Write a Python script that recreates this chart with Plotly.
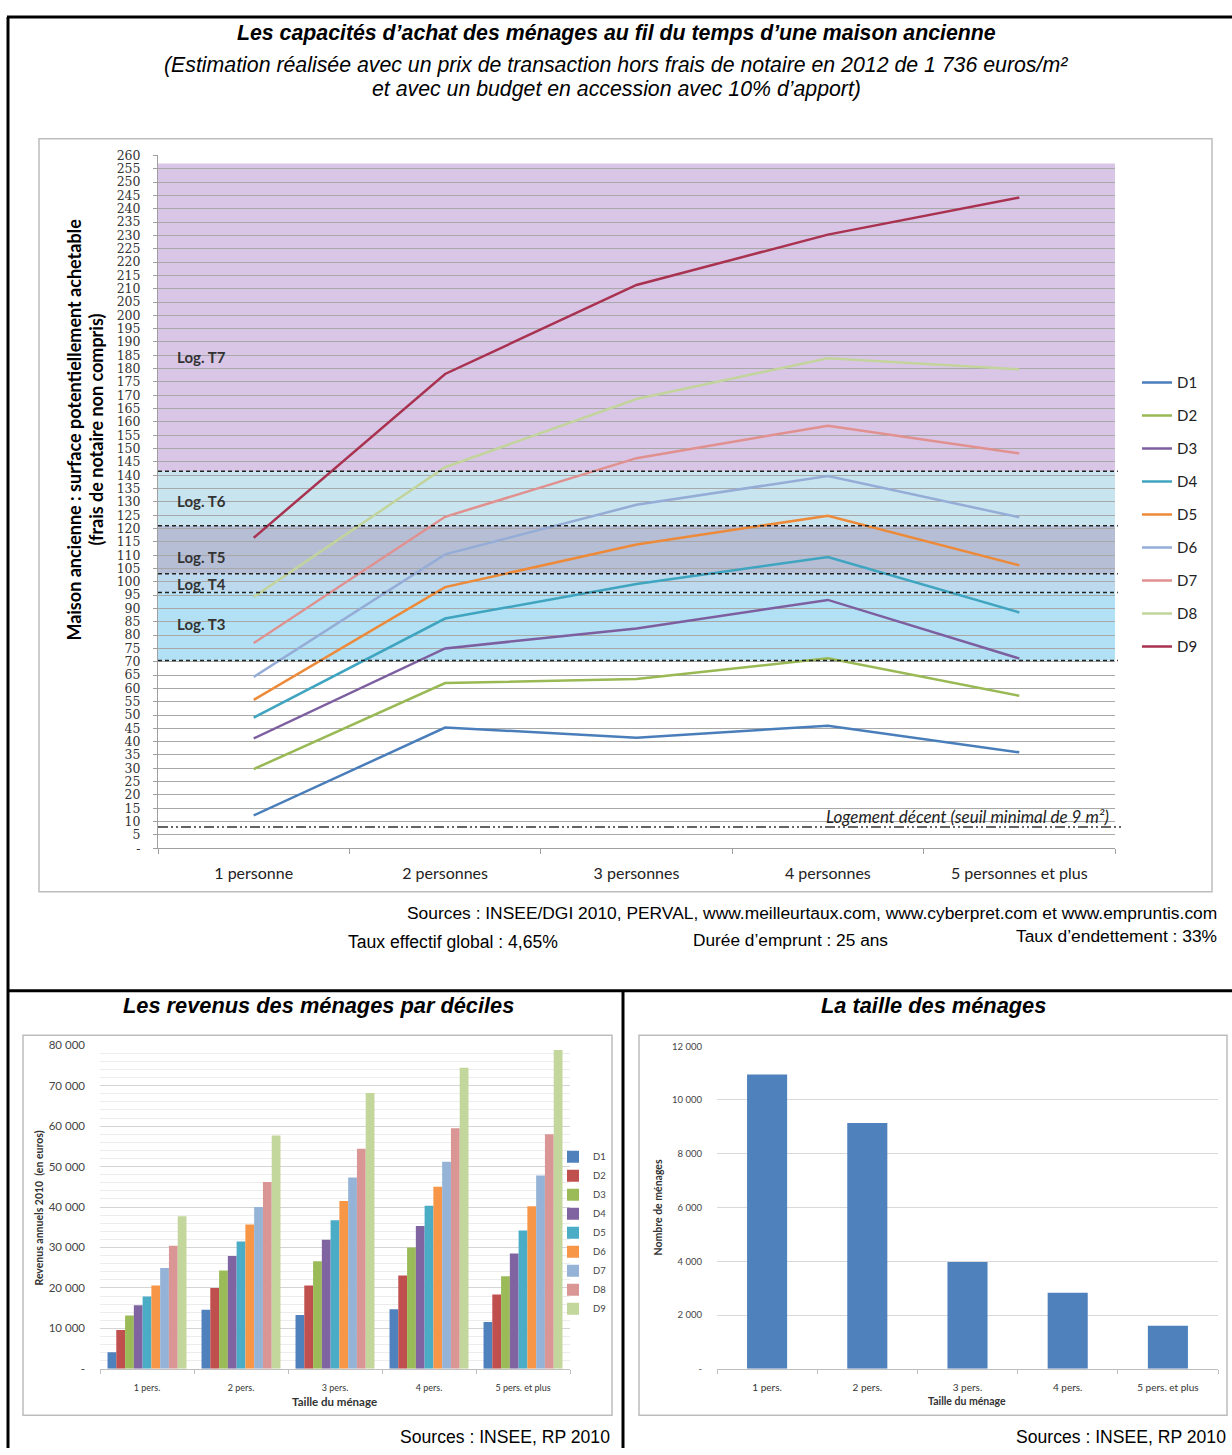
import plotly.graph_objects as go

W, H = 1232, 1455


def px(x):
    return x / W


def py(y):
    return 1 - y / H


# ---------------- data ----------------
households = ["1 personne", "2 personnes", "3 personnes", "4 personnes", "5 personnes et plus"]
deciles = ["D1", "D2", "D3", "D4", "D5", "D6", "D7", "D8", "D9"]

surf_d1 = [12.3, 45.3, 41.5, 46.0, 36.0]
surf_d2 = [29.7, 62.0, 63.5, 71.3, 57.2]
surf_d3 = [41.2, 75.0, 82.5, 93.2, 71.2]
surf_d4 = [49.0, 86.2, 99.2, 109.3, 88.5]
surf_d5 = [55.7, 98.0, 114.0, 124.8, 106.2]
surf_d6 = [64.3, 110.3, 128.9, 139.7, 124.2]
surf_d7 = [77.0, 124.4, 146.4, 158.6, 148.2]
surf_d8 = [94.3, 143.0, 168.6, 183.9, 179.7]
surf_d9 = [116.5, 178.0, 211.4, 230.3, 244.2]
surf_series = [surf_d1, surf_d2, surf_d3, surf_d4, surf_d5, surf_d6, surf_d7, surf_d8, surf_d9]

band_names = ["Log. T3", "Log. T4", "Log. T5", "Log. T6", "Log. T7"]
band_low = [70.5, 96, 103, 121, 141.5]
band_high = [96, 103, 121, 141.5, 257]
band_label_y = [84, 99.3, 109.3, 130.4, 184.4]
seuil_decent = 8

surf_tickvals = list(range(0, 261, 5))
surf_ticktext = ["-"] + [str(v) for v in surf_tickvals[1:]]

size_short = ["1 pers.", "2 pers.", "3 pers.", "4 pers.", "5 pers. et plus"]
rev_d1 = [4100, 14600, 13300, 14700, 11600]
rev_d2 = [9600, 20000, 20600, 23100, 18400]
rev_d3 = [13200, 24300, 26600, 30000, 22900]
rev_d4 = [15700, 27900, 31900, 35300, 28500]
rev_d5 = [17900, 31500, 36700, 40300, 34200]
rev_d6 = [20600, 35700, 41500, 45000, 40200]
rev_d7 = [24900, 40000, 47300, 51200, 47800]
rev_d8 = [30400, 46200, 54400, 59500, 58000]
rev_d9 = [37700, 57700, 68200, 74400, 78800]
rev_series = [rev_d1, rev_d2, rev_d3, rev_d4, rev_d5, rev_d6, rev_d7, rev_d8, rev_d9]
rev_tickvals = [0, 10000, 20000, 30000, 40000, 50000, 60000, 70000, 80000]
rev_ticktext = ["-", "10 000", "20 000", "30 000", "40 000", "50 000", "60 000", "70 000", "80 000"]

menages = [10950, 9140, 3970, 2830, 1600]
men_tickvals = [0, 2000, 4000, 6000, 8000, 10000, 12000]
men_ticktext = ["-", "2 000", "4 000", "6 000", "8 000", "10 000", "12 000"]

# ---------------- styles ----------------
line_colors = ["#4a7ebb", "#98b954", "#7d5fa0", "#3fa4bf", "#ec8a3a",
               "#95add6", "#e0908e", "#c2d49c", "#a83250"]
bar_colors = ["#4f81bd", "#c0504d", "#9bbb59", "#8064a2", "#4bacc6",
              "#f79646", "#95b3d7", "#d99694", "#c3d69b"]
band_colors = ["#b2e1f5", "#bcd9ee", "#b6bed6", "#c8e5ef", "#d9c6e6"]

NARROW = "Liberation Sans Narrow, Arial Narrow, Liberation Sans, Arial, sans-serif"
CAL = "Lato, Open Sans, sans-serif"
SERIF = "DejaVu Serif, serif"

fig = go.Figure()

for name, vals, col in zip(deciles, surf_series, line_colors):
    fig.add_trace(go.Scatter(
        x=households, y=vals, mode="lines", name=name,
        line=dict(color=col, width=2.5),
        xaxis="x", yaxis="y", legend="legend", legendgroup=name,
    ))

for name, vals, col in zip(deciles, rev_series, bar_colors):
    fig.add_trace(go.Bar(
        x=size_short, y=vals, name=name, marker=dict(color=col, line=dict(width=0)),
        xaxis="x2", yaxis="y2", legend="legend2",
    ))

fig.add_trace(go.Bar(
    x=size_short, y=menages, name="Ménages", marker=dict(color="#4f81bd", line=dict(width=0)),
    xaxis="x3", yaxis="y3", showlegend=False, width=0.4, offset=-0.2,
))

shapes = []
# bands
for lo, hi, col in zip(band_low, band_high, band_colors):
    shapes.append(dict(type="rect", xref="x domain", yref="y", x0=0, x1=1, y0=lo, y1=hi,
                       fillcolor=col, line=dict(width=0), layer="below"))
for lo in band_low:
    shapes.append(dict(type="line", xref="x domain", yref="y", x0=0, x1=1.003, y0=lo, y1=lo,
                       line=dict(color="#222222", width=1.5, dash="4px,3px"), layer="above"))
shapes.append(dict(type="line", xref="x domain", yref="y", x0=0, x1=1.008, y0=seuil_decent, y1=seuil_decent,
                   line=dict(color="#333333", width=1.5, dash="10px,3px,2px,3px,2px,3px"), layer="above"))

# chart boxes
for (x0, y0, x1, y1) in [(39, 132, 1212, 893), (23, 1038, 612, 1422), (639, 1038, 1227, 1422)]:
    shapes.append(dict(type="rect", xref="paper", yref="paper", x0=px(x0), x1=px(x1), y0=py(y0), y1=py(y1),
                       line=dict(color="#bdbdbd", width=1.5), fillcolor="rgba(0,0,0,0)", layer="above"))
# frame lines
frame = [(7, 9, 1232, 9), (8, 9, 8, 1455), (8, 993, 1232, 993), (623, 993, 623, 1455)]
for (x0, y0, x1, y1) in frame:
    shapes.append(dict(type="line", xref="paper", yref="paper", x0=px(x0), x1=px(x1), y0=py(y0), y1=py(y1),
                       line=dict(color="black", width=3), layer="above"))

ann = []


def txt(text, x, y, size, family=NARROW, xanchor="center", color="black", angle=0):
    ann.append(dict(text=text, x=px(x), y=py(y), xref="paper", yref="paper", xanchor=xanchor,
                    yanchor="middle", showarrow=False, textangle=angle,
                    font=dict(family=family, size=size, color=color)))


txt("<b><i>Les capacités d’achat des ménages au fil du temps d’une maison ancienne</i></b>", 616, 25, 21.3)
txt("<i>(Estimation réalisée avec un prix de transaction hors frais de notaire en 2012 de 1 736 euros/m²</i>", 616, 58, 21.3)
txt("<i>et avec un budget en accession avec 10% d’apport)</i>", 616, 82, 21.3)
txt("Sources : INSEE/DGI 2010, PERVAL, www.meilleurtaux.com, www.cyberpret.com et www.empruntis.com",
    1219, 914, 17.4, xanchor="right")
txt("Taux effectif global : 4,65%", 453, 944, 17.6)
txt("Durée d’emprunt : 25 ans", 790, 942, 17.3)
txt("Taux d’endettement : 33%", 1219, 938, 17.4, xanchor="right")
txt("<b><i>Les revenus des ménages par déciles</i></b>", 318, 1008, 21.8)
txt("<b><i>La taille des ménages</i></b>", 933, 1008, 21.8)
txt("Sources : INSEE, RP 2010", 612, 1444, 17.6, xanchor="right")
txt("Sources : INSEE, RP 2010", 1228, 1444, 17.6, xanchor="right")

txt("<b>Maison ancienne : surface potentiellement achetable</b>", 74, 426, 18, family=CAL, angle=-90)
txt("<b>(frais de notaire non compris)</b>", 96, 426, 18, family=CAL, angle=-90)
txt("<b>Revenus annuels 2010  (en euros)</b>", 39, 1212, 10.5, family=CAL, angle=-90, color="#333")
txt("<b>Nombre de ménages</b>", 658, 1212, 10.5, family=CAL, angle=-90, color="#333")
txt("<b>Taille du ménage</b>", 335, 1408, 11.5, family=CAL, color="#333")
txt("<b>Taille du ménage</b>", 967, 1408, 10.5, family=CAL, color="#333")

for name, yv in zip(band_names, band_label_y):
    ann.append(dict(text="<b>" + name + "</b>", x=0.018, y=yv, xref="x domain", yref="y",
                    xanchor="left", yanchor="middle", showarrow=False,
                    font=dict(family=CAL, size=15, color="#333333")))
ann.append(dict(text="<i>Logement décent (seuil minimal de 9 m²)</i>", x=0.996, y=seuil_decent + 4,
                xref="x domain", yref="y", xanchor="right", yanchor="middle", showarrow=False,
                font=dict(family=CAL, size=17, color="#222222")))

fig.update_layout(
    width=W, height=H, autosize=False,
    margin=dict(l=0, r=0, t=0, b=0),
    paper_bgcolor="white", plot_bgcolor="white",
    barmode="group", bargap=0.16, bargroupgap=0,
    shapes=shapes, annotations=ann,
    xaxis=dict(domain=[px(158), px(1115)], anchor="y", type="category", range=[-0.5, 4.5],
               tickson="boundaries", ticks="outside", ticklen=5, tickcolor="#a0a0a0",
               showline=True, linecolor="#a0a0a0", linewidth=1, showgrid=False,
               tickfont=dict(family=CAL, size=16, color="#222"), ticklabelstandoff=11),
    yaxis=dict(domain=[py(849), py(149)], anchor="x", range=[0, 260],
               tickvals=surf_tickvals, ticktext=surf_ticktext,
               ticks="outside", ticklen=4, tickcolor="#a0a0a0",
               showline=True, linecolor="#a0a0a0", linewidth=1,
               showgrid=True, gridcolor="#a8a8a8", gridwidth=1, zeroline=False,
               tickfont=dict(family=SERIF, size=12.5, color="#333"), ticklabelstandoff=10),
    xaxis2=dict(domain=[px(100), px(570)], anchor="y2", type="category", range=[-0.5, 4.5],
                tickson="boundaries", ticks="outside", ticklen=4, tickcolor="#bfbfbf",
                showline=True, linecolor="#bfbfbf", showgrid=False,
                tickfont=dict(family=CAL, size=9, color="#333"), ticklabelstandoff=10),
    yaxis2=dict(domain=[py(1375), py(1048)], anchor="x2", range=[0, 80000],
                tickvals=rev_tickvals, ticktext=rev_ticktext, ticks="",
                showgrid=True, gridcolor="#d4d4d4", gridwidth=1, zeroline=False,
                minor=dict(dtick=2000, showgrid=True, gridcolor="#ececec", gridwidth=1),
                tickfont=dict(family=CAL, size=11.5, color="#444"), ticklabelstandoff=14),
    xaxis3=dict(domain=[px(717), px(1218)], anchor="y3", type="category", range=[-0.5, 4.5],
                tickson="boundaries", ticks="outside", ticklen=4, tickcolor="#bfbfbf",
                showline=True, linecolor="#bfbfbf", showgrid=False,
                tickfont=dict(family=CAL, size=10, color="#333"), ticklabelstandoff=9),
    yaxis3=dict(domain=[py(1375), py(1049)], anchor="x3", range=[0, 12000],
                tickvals=men_tickvals, ticktext=men_ticktext, ticks="",
                showgrid=True, gridcolor="#d9d9d9", gridwidth=1, zeroline=False,
                tickfont=dict(family=CAL, size=9.5, color="#444"), ticklabelstandoff=14),
    legend=dict(x=px(1137), y=py(362), xanchor="left", yanchor="top",
                bgcolor="rgba(0,0,0,0)", font=dict(family=CAL, size=15, color="#222"),
                tracegroupgap=10.5, itemwidth=30),
    legend2=dict(x=px(553), y=py(1146), xanchor="left", yanchor="top",
                 bgcolor="rgba(0,0,0,0)", font=dict(family=CAL, size=9.5, color="#444"),
                 tracegroupgap=0),
    showlegend=True,
)

fig.write_html("out.html", config={"displayModeBar": False},
               post_script="document.body.style.margin='0';")
